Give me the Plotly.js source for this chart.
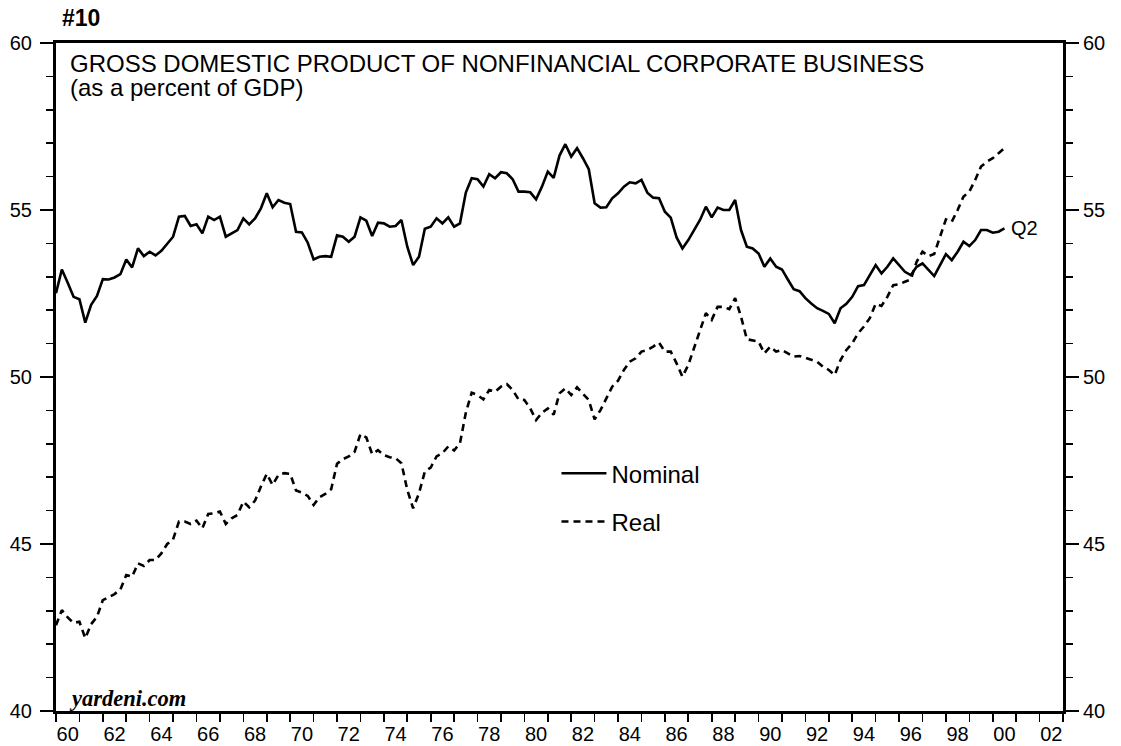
<!DOCTYPE html>
<html>
<head>
<meta charset="utf-8">
<script src="https://cdn.plot.ly/plotly-3.0.1.min.js"></script>
<style>
  html, body { margin: 0; padding: 0; background: #fff; }
  #chart { width: 1121px; height: 746px; }
</style>
</head>
<body>
<div id="chart"></div>
<script>
// Quarterly data, first point at 1960.0, last point 2000 Q2
const startYear = 1960;

const nominal = [
  52.51, 53.22, 52.82, 52.40, 52.33, 51.63, 52.16, 52.43, 52.93, 52.92,
  52.98, 53.08, 53.52, 53.28, 53.85, 53.62, 53.75, 53.64, 53.78, 53.98,
  54.20, 54.80, 54.82, 54.52, 54.57, 54.30, 54.80, 54.70, 54.80, 54.20,
  54.30, 54.40, 54.75, 54.57, 54.75, 55.05, 55.50, 55.08, 55.30, 55.22,
  55.18, 54.35, 54.33, 54.02, 53.52, 53.60, 53.62, 53.60, 54.24, 54.20,
  54.05, 54.20, 54.78, 54.68, 54.22, 54.62, 54.60, 54.50, 54.52, 54.70,
  53.90, 53.35, 53.60, 54.44, 54.50, 54.75, 54.60, 54.78, 54.50, 54.60,
  55.52, 55.95, 55.92, 55.70, 56.07, 55.95, 56.13, 56.10, 55.92, 55.55,
  55.55, 55.53, 55.32, 55.70, 56.15, 55.96, 56.63, 56.97, 56.60, 56.85,
  56.55, 56.22, 55.20, 55.07, 55.08, 55.35, 55.50, 55.70, 55.83, 55.80,
  55.90, 55.52, 55.37, 55.35, 54.95, 54.77, 54.18, 53.85, 54.10, 54.38,
  54.70, 55.10, 54.78, 55.07, 55.00, 55.00, 55.30, 54.40, 53.90, 53.85,
  53.70, 53.30, 53.55, 53.30, 53.22, 52.92, 52.63, 52.57, 52.36, 52.20,
  52.06, 51.98, 51.89, 51.61, 52.06, 52.19, 52.40, 52.72, 52.75, 53.05,
  53.35, 53.10, 53.30, 53.55, 53.35, 53.15, 53.05, 53.30, 53.40, 53.20,
  53.02, 53.35, 53.68, 53.50, 53.75, 54.05, 53.92, 54.10, 54.40, 54.40,
  54.32, 54.35, 54.45
];

const real = [
  42.57, 43.02, 42.80, 42.64, 42.67, 42.18, 42.60, 42.82, 43.32, 43.40,
  43.50, 43.64, 44.07, 44.02, 44.42, 44.34, 44.52, 44.52, 44.72, 45.00,
  45.14, 45.67, 45.67, 45.60, 45.70, 45.47, 45.90, 45.92, 45.97, 45.60,
  45.77, 45.87, 46.27, 46.10, 46.30, 46.72, 47.10, 46.77, 47.07, 47.12,
  47.10, 46.60, 46.54, 46.44, 46.17, 46.40, 46.50, 46.64, 47.40, 47.54,
  47.62, 47.76, 48.29, 48.19, 47.69, 47.81, 47.66, 47.60, 47.57, 47.42,
  46.62, 46.07, 46.52, 47.17, 47.29, 47.62, 47.72, 47.92, 47.80, 48.02,
  48.93, 49.53, 49.46, 49.33, 49.61, 49.56, 49.71, 49.79, 49.61, 49.33,
  49.31, 49.06, 48.71, 48.93, 49.06, 48.87, 49.51, 49.66, 49.46, 49.69,
  49.49, 49.31, 48.73, 49.01, 49.36, 49.71, 49.89, 50.21, 50.46, 50.56,
  50.76, 50.81, 50.91, 51.03, 50.76, 50.76, 50.41, 50.01, 50.36, 50.86,
  51.41, 51.91, 51.71, 52.10, 52.10, 52.03, 52.36, 51.81, 51.13, 51.09,
  51.06, 50.71, 50.91, 50.76, 50.81, 50.71, 50.61, 50.63, 50.58, 50.52,
  50.46, 50.31, 50.21, 50.06, 50.51, 50.81, 51.01, 51.31, 51.51, 51.76,
  52.19, 52.13, 52.40, 52.75, 52.78, 52.85, 52.92, 53.45, 53.75, 53.62,
  53.68, 54.20, 54.72, 54.65, 55.00, 55.40, 55.55, 55.90, 56.30, 56.45,
  56.55, 56.70, 56.85
];

const yearTicks = [];
for (let y = 1960; y <= 2003; y++) yearTicks.push(y);
const labelYears = [1960,1962,1964,1966,1968,1970,1972,1974,1976,1978,1980,
                    1982,1984,1986,1988,1990,1992,1994,1996,1998,2000,2002];
const labelText = ['60','62','64','66','68','70','72','74','76','78','80',
                   '82','84','86','88','90','92','94','96','98','00','02'];

const dates = nominal.map((_, i) => startYear + i * 0.25);
const lastLabel = 'Q2';

const FONT = 'Liberation Sans, Arial, Helvetica, sans-serif';

const traces = [
  {
    x: dates, y: nominal, name: 'Nominal', type: 'scatter', mode: 'lines',
    line: { color: '#000', width: 2.6 }, legendgroup: 'n'
  },
  {
    x: dates, y: real, name: 'Real', type: 'scatter', mode: 'lines',
    line: { color: '#000', width: 2.6, dash: '7px,5px' }, legendgroup: 'r'
  },
  {
    x: [null], y: [null], xaxis: 'x2', yaxis: 'y2', type: 'scatter',
    mode: 'lines', showlegend: false
  }
];

const yCommon = {
  range: [40, 60], dtick: 5, tick0: 40, ticks: 'outside', ticklen: 13,
  tickwidth: 1.6, tickcolor: '#000', showgrid: false, zeroline: false,
  showline: true, linewidth: 3, linecolor: '#000',
  tickfont: { family: FONT, size: 20, color: '#000' },
  minor: { dtick: 1, ticks: 'outside', ticklen: 7, tickwidth: 1.6, tickcolor: '#000', showgrid: false }
};

const layout = {
  width: 1121, height: 746,
  margin: { l: 56, r: 58, t: 43, b: 35, pad: 0 },
  showlegend: true,
  legend: {
    x: 0.497, y: 0.389, xanchor: 'left', yanchor: 'top',
    font: { family: FONT, size: 24, color: '#000' },
    bgcolor: 'rgba(0,0,0,0)', tracegroupgap: 14, itemwidth: 45
  },
  xaxis: {
    range: [1960, 2003], tickmode: 'array', tickvals: yearTicks,
    showticklabels: false, ticks: 'outside', ticklen: 8, tickwidth: 1.6,
    tickcolor: '#000', showgrid: false, zeroline: false,
    showline: true, linewidth: 3, linecolor: '#000', mirror: true
  },
  xaxis2: {
    range: [1960, 2003], overlaying: 'x', anchor: 'y', side: 'bottom',
    tickmode: 'array', tickvals: labelYears.map(v => v + 0.5), ticktext: labelText,
    ticks: 'outside', ticklen: 5, tickcolor: 'rgba(0,0,0,0)',
    showgrid: false, zeroline: false, showline: false,
    tickfont: { family: FONT, size: 20, color: '#000' }
  },
  yaxis: Object.assign({}, yCommon, { side: 'left', ticklabelstandoff: 4 }),
  yaxis2: Object.assign({}, yCommon, { side: 'right', overlaying: 'y', anchor: 'x2' }),
  annotations: [
    {
      xref: 'paper', yref: 'paper', x: 0.0115, y: 1 - (63 - 43) / 668, xanchor: 'left', yanchor: 'middle',
      align: 'left', showarrow: false,
      text: 'GROSS DOMESTIC PRODUCT OF NONFINANCIAL CORPORATE BUSINESS',
      font: { family: FONT, size: 24, color: '#000' }
    },
    {
      xref: 'paper', yref: 'paper', x: 0.0115, y: 1 - (88 - 43) / 668, xanchor: 'left', yanchor: 'middle',
      align: 'left', showarrow: false,
      text: '(as a percent of GDP)',
      font: { family: FONT, size: 24, color: '#000' }
    },
    {
      xref: 'paper', yref: 'paper', x: 0.004, y: 1 + (43 - 18) / 668, xanchor: 'left', yanchor: 'middle',
      showarrow: false, text: '<b>#10</b>',
      font: { family: FONT, size: 23, color: '#000' }
    },
    {
      xref: 'paper', yref: 'paper', x: 0.0105, y: (711 - 698) / 668, xanchor: 'left', yanchor: 'middle',
      showarrow: false, text: '<b><i>yardeni.com</i></b>',
      font: { family: 'Liberation Serif, Times New Roman, serif', size: 22.5, color: '#000' }
    },
    {
      xref: 'x', yref: 'y', x: dates[dates.length - 1], y: nominal[nominal.length - 1],
      xanchor: 'left', yanchor: 'middle', xshift: 5, showarrow: false, text: lastLabel,
      font: { family: FONT, size: 20, color: '#000' }
    }
  ]
};

Plotly.newPlot('chart', traces, layout, { staticPlot: true, displayModeBar: false });
</script>
</body>
</html>
